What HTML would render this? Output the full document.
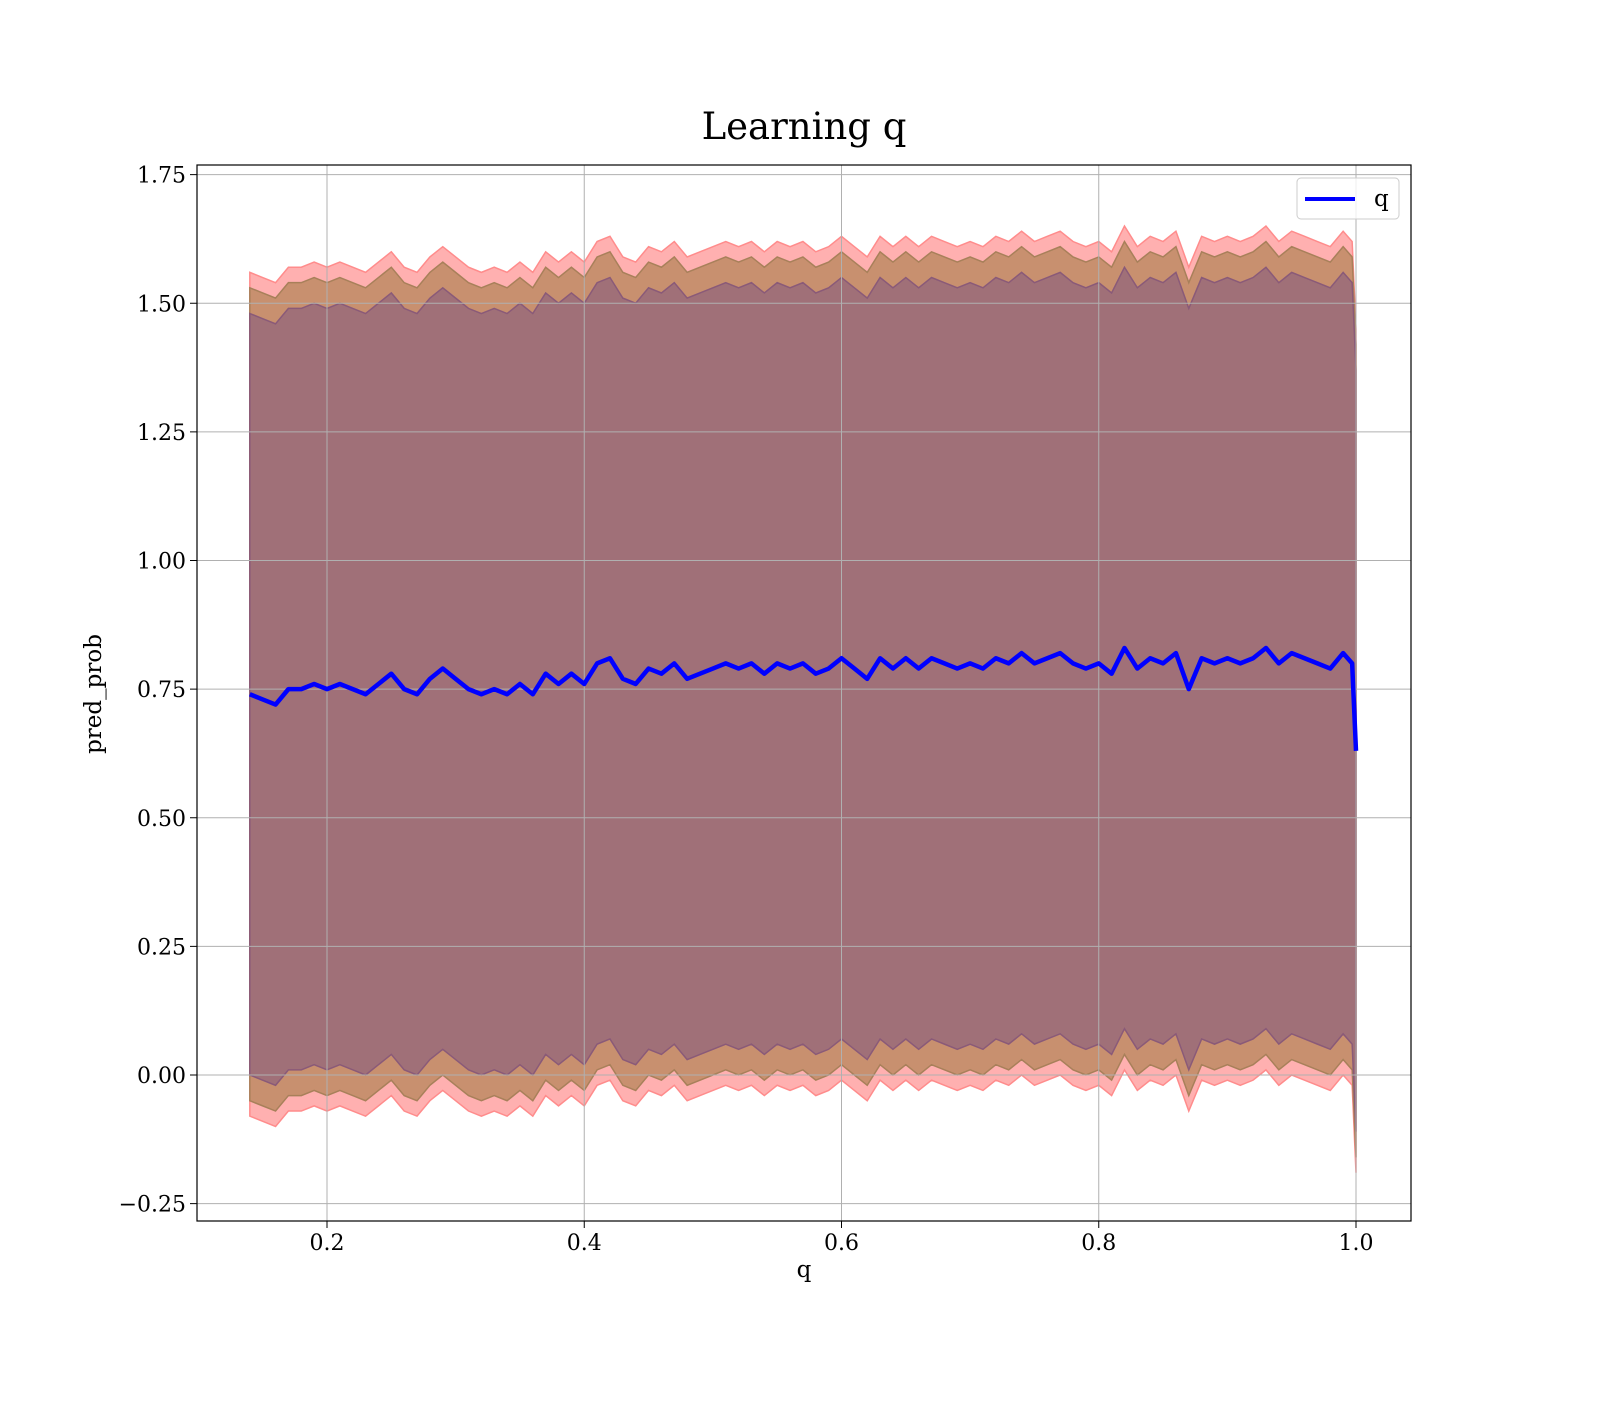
<!DOCTYPE html>
<html><head><meta charset="utf-8"><style>
body{margin:0;background:#fff}
svg text{font-family:"DejaVu Serif","Liberation Serif",serif}
</style></head><body>
<svg width="1600" height="1400" viewBox="0 0 1600 1400" xmlns="http://www.w3.org/2000/svg">
<rect width="1600" height="1400" fill="#fff"/>
<text x="804" y="139" font-size="37" text-anchor="middle">Learning q</text>
<g id="plot"></g>
<rect x="197" y="165" width="1214" height="1056" fill="none" stroke="#000" stroke-width="1.2"/>
<text x="804" y="1277" font-size="23" text-anchor="middle">q</text>
<text transform="translate(101,694) rotate(-90)" font-size="23" text-anchor="middle">pred_prob</text>
<g>
<rect x="1297" y="178" width="102" height="41" rx="4" fill="#fff" fill-opacity="0.8" stroke="#ccc"/>
<line x1="1305" y1="199" x2="1355" y2="199" stroke="#0000ff" stroke-width="4"/>
<text x="1374" y="206" font-size="23">q</text>
</g>
</svg>
<script>
const qValues=[0.14,0.15,0.16,0.17,0.18,0.19,0.20,0.21,0.22,0.23,0.24,0.25,0.26,0.27,0.28,0.29,0.30,0.31,0.32,0.33,0.34,0.35,0.36,0.37,0.38,0.39,0.40,0.41,0.42,0.43,0.44,0.45,0.46,0.47,0.48,0.49,0.50,0.51,0.52,0.53,0.54,0.55,0.56,0.57,0.58,0.59,0.60,0.61,0.62,0.63,0.64,0.65,0.66,0.67,0.68,0.69,0.70,0.71,0.72,0.73,0.74,0.75,0.76,0.77,0.78,0.79,0.80,0.81,0.82,0.83,0.84,0.85,0.86,0.87,0.88,0.89,0.90,0.91,0.92,0.93,0.94,0.95,0.96,0.97,0.98,0.99,0.997,1.0];
const meanValues=[0.74,0.73,0.72,0.75,0.75,0.76,0.75,0.76,0.75,0.74,0.76,0.78,0.75,0.74,0.77,0.79,0.77,0.75,0.74,0.75,0.74,0.76,0.74,0.78,0.76,0.78,0.76,0.80,0.81,0.77,0.76,0.79,0.78,0.80,0.77,0.78,0.79,0.80,0.79,0.80,0.78,0.80,0.79,0.80,0.78,0.79,0.81,0.79,0.77,0.81,0.79,0.81,0.79,0.81,0.80,0.79,0.80,0.79,0.81,0.80,0.82,0.80,0.81,0.82,0.80,0.79,0.80,0.78,0.83,0.79,0.81,0.80,0.82,0.75,0.81,0.80,0.81,0.80,0.81,0.83,0.80,0.82,0.81,0.80,0.79,0.82,0.80,0.63];
const bandHalfWidths=[0.82,0.79,0.74];
const xTicks=[0.2,0.4,0.6,0.8,1.0];
const xTickLabels=["0.2","0.4","0.6","0.8","1.0"];
const yTicks=[-0.25,0,0.25,0.5,0.75,1.0,1.25,1.5,1.75];
const yTickLabels=["\u22120.25","0.00","0.25","0.50","0.75","1.00","1.25","1.50","1.75"];

const xs=v=>327+(v-0.2)*1286.25;
const ys=v=>1075-v*514.5;
const NS="http://www.w3.org/2000/svg";
const g=document.getElementById('plot');
function mk(t,a){const e=document.createElementNS(NS,t);for(const k in a)e.setAttribute(k,a[k]);g.appendChild(e);return e;}
const fills=[["#ffb0b0","#ff8c8c"],["#c8906f","#a8805a"],["#a07078","#8a5a78"]];
const names=['band-outer','band-middle','band-inner'];
bandHalfWidths.forEach((w,i)=>{
  let up=qValues.map((q,j)=>xs(q)+','+ys(meanValues[j]+w));
  let lo=qValues.map((q,j)=>xs(q)+','+ys(meanValues[j]-w)).reverse();
  const p=mk('polygon',{points:up.concat(lo).join(' '),fill:fills[i][0],stroke:fills[i][1],'stroke-width':1.5});
  
  
});
xTicks.forEach((t,i)=>{
  const l=mk('line',{x1:xs(t),x2:xs(t),y1:165,y2:1221,stroke:'#b0b0b0','stroke-width':1});
  
  
  const k=mk('line',{x1:xs(t),x2:xs(t),y1:1221,y2:1228,stroke:'#000'});
  
  
  const tx=mk('text',{x:xs(t),y:1250,'font-size':22,'text-anchor':'middle'});
  tx.textContent=xTickLabels[i];
  
  
});
yTicks.forEach((t,i)=>{
  const l=mk('line',{x1:197,x2:1411,y1:ys(t),y2:ys(t),stroke:'#b0b0b0','stroke-width':1});
  
  
  const k=mk('line',{x1:190,x2:197,y1:ys(t),y2:ys(t),stroke:'#000'});
  
  
  const tx=mk('text',{x:186,y:ys(t)+8,'font-size':22,'text-anchor':'end'});
  tx.textContent=yTickLabels[i];
  
  
});
const line=mk('polyline',{points:qValues.map((q,j)=>xs(q)+','+ys(meanValues[j])).join(' '),fill:'none',stroke:'#0000ff','stroke-width':4.5,'stroke-linejoin':'round'});


</script>
</body></html>
